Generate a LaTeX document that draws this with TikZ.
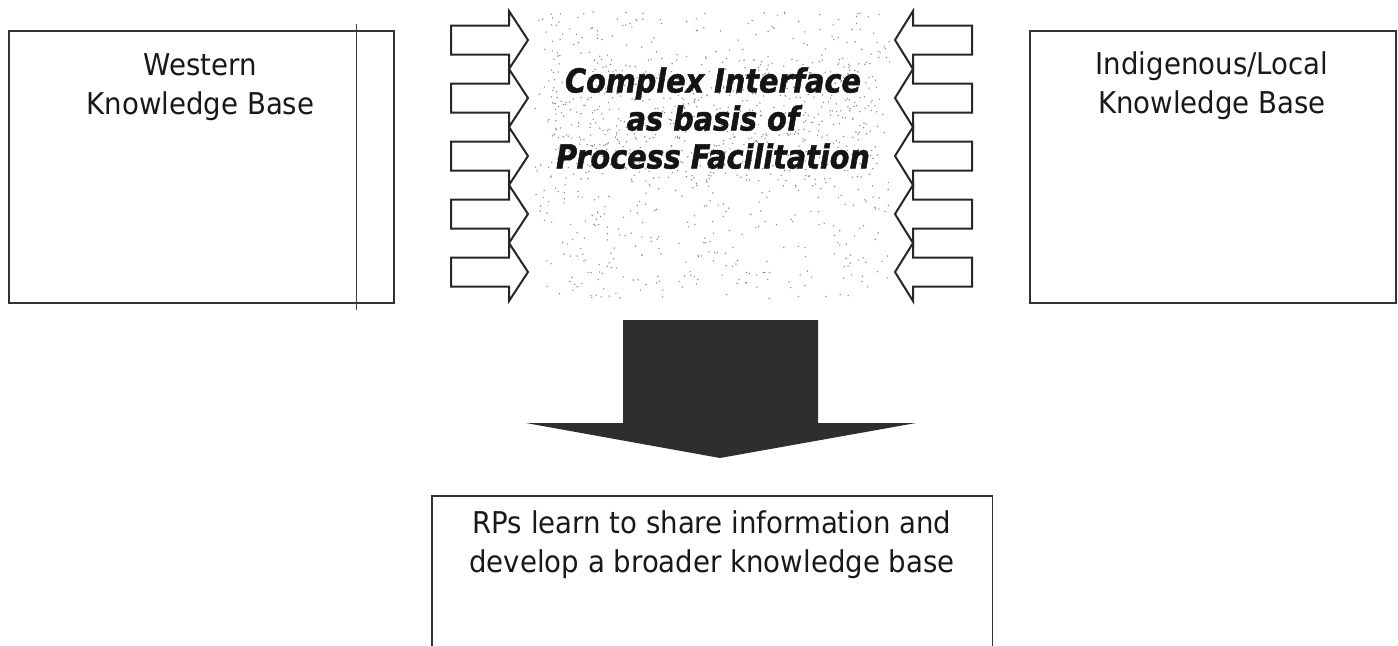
\documentclass[tikz,border=0pt]{standalone}
\usepackage{fontspec}
\setmainfont{DejaVu Sans}[FakeStretch=0.92]
\newfontfamily\ifacefont{DejaVu Sans}[FakeStretch=0.87, BoldItalicFeatures={FakeBold=1.5}]
\begin{document}
\begin{tikzpicture}[x=0.5pt,y=-0.5pt,
  frame/.style={draw=black!80, line width=0.9pt},
  inarrow/.style={draw=black!85, line width=1pt, fill=white, line join=miter},
  boxtext/.style={inner sep=0pt, align=center, anchor=north, text=black!90,
    font=\fontsize{15pt}{19.5pt}\selectfont},
  ctrtext/.style={inner sep=0pt, align=center, anchor=north, text=black!92,
    font=\ifacefont\bfseries\itshape\fontsize{16.5pt}{19pt}\selectfont},
  stipple/.style={fill=black!45},
  bigarrow/.style={fill=black!82},
]
\useasboundingbox (0,0) rectangle (1398,645);

% speckled backdrop of the interface zone
\pgfmathsetseed{4242}
\foreach \k in {1,...,650}{
  \pgfmathsetmacro{\rx}{535+355*rnd}
  \pgfmathsetmacro{\ry}{12+288*rnd}
  \fill[stipple] (\rx,\ry) circle[radius=0.4pt];
}
\foreach \k in {1,...,450}{
  \pgfmathsetmacro{\rx}{548+330*rnd}
  \pgfmathsetmacro{\ry}{58+122*rnd}
  \fill[stipple] (\rx,\ry) circle[radius=0.4pt];
}

% the two knowledge bases
\node[frame, anchor=north west, inner sep=0pt,
      minimum width=192.5pt, minimum height=136pt] (west) at (8,30) {};
\node[frame, anchor=north west, inner sep=0pt,
      minimum width=183pt, minimum height=136pt] (indig) at (1029,30) {};
\coordinate (ruleA) at (356,24);
\coordinate (ruleB) at (356,310);
\draw[black!75, line width=0.5pt] (ruleA) -- (ruleB);

\node[boxtext] (westlbl) at (200.5,53) {Western\\Knowledge Base};
\node[boxtext] (indiglbl) at (1212,51) {Indigenous/Local\\Knowledge Base};

% inward block arrows
\foreach \c in {40,98,156,214,272}{
  \draw[inarrow] (451,\c-14.5) -- (509,\c-14.5) -- (509,\c-29) -- (528,\c)
    -- (509,\c+29) -- (509,\c+14.5) -- (451,\c+14.5) -- cycle;
  \draw[inarrow] (972,\c-14.5) -- (913,\c-14.5) -- (913,\c-29) -- (895,\c)
    -- (913,\c+29) -- (913,\c+14.5) -- (972,\c+14.5) -- cycle;
}

\node[ctrtext] (iface) at (713,67) {Complex Interface\\as basis of\\Process Facilitation};

% outcome box, open at the bottom
\node[anchor=north, inner sep=0pt, minimum width=280pt, minimum height=74.5pt]
  (result) at (712,496) {};
\draw[frame] (result.south west) -- (result.north west)
  -- (result.north east) -- (result.south east);
\node[boxtext] (outcome) at (712,510)
  {RPs learn to share information and\\develop a broader knowledge base};

% heavy downward arrow
\coordinate (sTL) at (623,320);
\coordinate (sTR) at (818,320);
\coordinate (tip) at (720,458);
\fill[bigarrow] (sTL) -- (sTR) -- (818,423) -- (916,423) -- (tip)
  -- (526,423) -- (623,423) -- cycle;
\end{tikzpicture}
\end{document}
